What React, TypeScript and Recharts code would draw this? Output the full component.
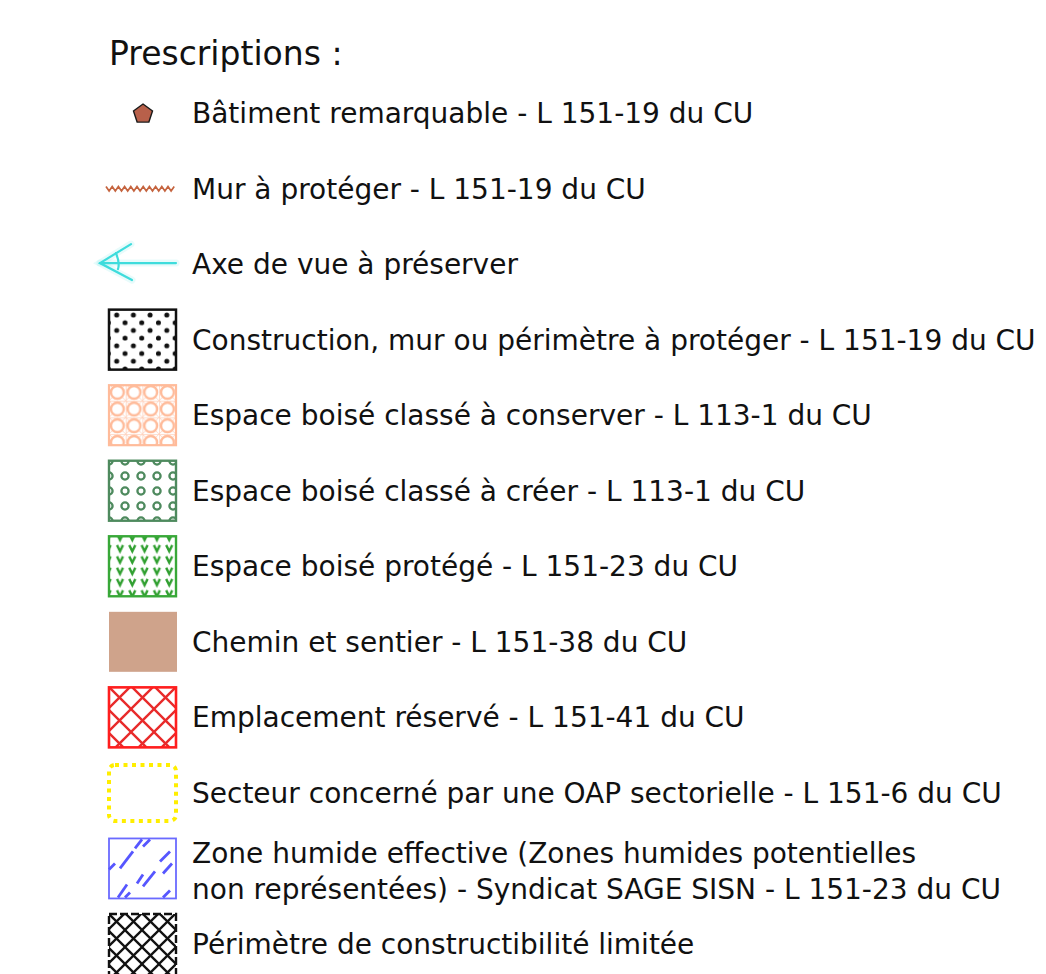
import React from "react";
import { ScatterChart, Scatter, XAxis, YAxis } from "recharts";

const title = "Prescriptions :";

const kinds = [
  "batiment",
  "mur",
  "axe",
  "construction",
  "ebcConserver",
  "ebcCreer",
  "ebp",
  "chemin",
  "emplacement",
  "oap",
  "zoneHumide",
  "perimetre",
];

const labels = [
  ["Bâtiment remarquable - L 151-19 du CU"],
  ["Mur à protéger - L 151-19 du CU"],
  ["Axe de vue à préserver"],
  ["Construction, mur ou périmètre à protéger - L 151-19 du CU"],
  ["Espace boisé classé à conserver - L 113-1 du CU"],
  ["Espace boisé classé à créer - L 113-1 du CU"],
  ["Espace boisé protégé - L 151-23 du CU"],
  ["Chemin et sentier - L 151-38 du CU"],
  ["Emplacement réservé - L 151-41 du CU"],
  ["Secteur concerné par une OAP sectorielle - L 151-6 du CU"],
  ["Zone humide effective (Zones humides potentielles", "non représentées) - Syndicat SAGE SISN - L 151-23 du CU"],
  ["Périmètre de constructibilité limitée"],
];

const rows = kinds.map((kind, i) => ({ x: 0, y: i, kind, lines: labels[i] }));

const FONT = "'DejaVu Sans', sans-serif";

// short hatch strokes of the wetland symbol, relative to the box corner
const wetDashes = [
  [1, 31, 7, 25],
  [12, 30, 25, 13],
  [27, 10, 34, 1],
  [35, 8, 42, 1],
  [52, 23, 62, 13],
  [55, 35, 64, 25],
  [29, 45, 35, 36],
  [35, 48, 47, 33],
  [10, 59, 19, 46],
  [17, 59, 22, 54],
  [55, 59, 62, 52],
];

const Symbol = ({ kind, cx, cy }: { kind: string; cx: number; cy: number }) => {
  const bx = cx - 35;
  const by = cy - 30;
  const bw = 69;
  const bh = 60;
  switch (kind) {
    case "batiment": {
      const r = 10;
      const pts = [0, 1, 2, 3, 4]
        .map((k) => {
          const a = -Math.PI / 2 + (k * 2 * Math.PI) / 5;
          return `${cx + r * Math.cos(a)},${cy + 1 + r * Math.sin(a)}`;
        })
        .join(" ");
      return <polygon points={pts} fill="#b8604a" stroke="#1a1a1a" strokeWidth={1.4} />;
    }
    case "mur": {
      let d = `M${cx - 37},${cy - 2}`;
      for (let x = cx - 37, k = 0; x < cx + 31; x += 3.1, k++) {
        d += ` L${x + 3.1},${k % 2 === 0 ? cy + 2.5 : cy - 2}`;
      }
      return <path d={d} fill="none" stroke="#c5643f" strokeWidth={1.7} />;
    }
    case "axe": {
      const y = cy - 1;
      return (
        <g stroke="#3edcdc" fill="none" strokeLinecap="round">
          <g strokeOpacity={0.12} strokeWidth={7}>
            <path d={`M${cx - 43},${y} L${cx + 33},${y}`} />
            <path d={`M${cx - 12},${y - 19} L${cx - 43},${y} L${cx - 11},${y + 17}`} />
          </g>
          <g strokeWidth={2.2}>
            <path d={`M${cx - 43},${y} L${cx + 33},${y}`} />
            <path d={`M${cx - 12},${y - 19} L${cx - 43},${y} L${cx - 11},${y + 17}`} />
            <path d={`M${cx - 27},${y - 10} Q${cx - 23},${y} ${cx - 25},${y + 6}`} />
          </g>
        </g>
      );
    }
    case "chemin":
      return <rect x={bx + 1} y={by} width={bw - 1} height={bh} fill="#cfa38b" />;
    case "oap":
      return (
        <rect
          x={bx + 1}
          y={by + 2}
          width={bw - 2}
          height={bh - 4}
          rx={6}
          fill="none"
          stroke="#ffee00"
          strokeWidth={4}
          strokeDasharray="4 4.5"
        />
      );
    case "zoneHumide":
      return (
        <g>
          <rect x={bx + 1} y={by} width={bw - 2} height={bh} fill="#fff" stroke="#6a6aff" strokeWidth={1.8} />
          {wetDashes.map((d, i) => (
            <line key={i} x1={bx + d[0]} y1={by + d[1]} x2={bx + d[2]} y2={by + d[3]} stroke="#5656ff" strokeWidth={2.8} />
          ))}
        </g>
      );
    default: {
      const style: Record<string, { fill: string; stroke: string; sw: number; dash?: string }> = {
        construction: { fill: "url(#pDots)", stroke: "#111", sw: 2.5 },
        ebcConserver: { fill: "url(#pCircles)", stroke: "#ffbb9a", sw: 2.2 },
        ebcCreer: { fill: "url(#pRings)", stroke: "#4e8a5e", sw: 2.4 },
        ebp: { fill: "url(#pV)", stroke: "#38a838", sw: 2.4 },
        emplacement: { fill: "url(#pRed)", stroke: "#ff1e1e", sw: 2.6 },
        perimetre: { fill: "url(#pBlack)", stroke: "#111", sw: 2.4, dash: "8 3" },
      };
      const s = style[kind];
      return (
        <rect
          x={bx + 1}
          y={by}
          width={bw - 2}
          height={kind === "perimetre" ? bh + 10 : bh}
          fill={s.fill}
          stroke={s.stroke}
          strokeWidth={s.sw}
          strokeDasharray={s.dash}
        />
      );
    }
  }
};

const LegendRow = (props: any) => {
  const { cx, cy, payload } = props;
  const lines: string[] = payload.lines;
  const tx = cx + 49;
  return (
    <g>
      <Symbol kind={payload.kind} cx={cx} cy={cy} />
      {lines.length === 1 ? (
        <text x={tx} y={cy + 10} fontFamily={FONT} fontSize={28} fill="#111">
          {lines[0]}
        </text>
      ) : (
        <text x={tx} y={cy - 5} fontFamily={FONT} fontSize={28} fill="#111">
          <tspan x={tx}>{lines[0]}</tspan>
          <tspan x={tx} dy={36}>
            {lines[1]}
          </tspan>
        </text>
      )}
    </g>
  );
};

export default function App() {
  return (
    <div style={{ position: "absolute", left: 0, top: 0, width: 1046, height: 974, background: "#fff" }}>
      <ScatterChart width={1046} height={974} margin={{ top: 113, right: 20, bottom: 30, left: 143 }}>
        <defs>
          <pattern id="pDots" patternUnits="userSpaceOnUse" width={16.7} height={15.4} x={116.7} y={315}>
            <circle cx={0} cy={0} r={2.5} fill="#111" />
            <circle cx={16.7} cy={0} r={2.5} fill="#111" />
            <circle cx={0} cy={15.4} r={2.5} fill="#111" />
            <circle cx={16.7} cy={15.4} r={2.5} fill="#111" />
            <circle cx={8.35} cy={7.7} r={2.5} fill="#111" />
          </pattern>
          <pattern id="pCircles" patternUnits="userSpaceOnUse" width={16.7} height={16.7} x={109} y={384}>
            <line x1={0} y1={0} x2={16.7} y2={0} stroke="#ffc4a8" strokeWidth={1.2} />
            <line x1={0} y1={0} x2={0} y2={16.7} stroke="#ffc4a8" strokeWidth={1.2} />
            <line x1={0} y1={0} x2={16.7} y2={16.7} stroke="#ffd2bd" strokeWidth={0.8} />
            <line x1={16.7} y1={0} x2={0} y2={16.7} stroke="#ffd2bd" strokeWidth={0.8} />
            <circle cx={8.35} cy={8.35} r={6.4} fill="#fff" stroke="#ffbb9a" strokeWidth={2.4} />
          </pattern>
          <pattern id="pRings" patternUnits="userSpaceOnUse" width={16} height={15} x={109} y={461}>
            <circle cx={0} cy={0} r={3.6} fill="none" stroke="#4e8a5e" strokeWidth={2.3} />
            <circle cx={16} cy={0} r={3.6} fill="none" stroke="#4e8a5e" strokeWidth={2.3} />
            <circle cx={0} cy={15} r={3.6} fill="none" stroke="#4e8a5e" strokeWidth={2.3} />
            <circle cx={16} cy={15} r={3.6} fill="none" stroke="#4e8a5e" strokeWidth={2.3} />
          </pattern>
          <pattern id="pV" patternUnits="userSpaceOnUse" width={12.3} height={11.3} x={114} y={533}>
            <path d="M3,0.8 L6,7 L9,0.8" fill="none" stroke="#2f9f2f" strokeWidth={2.4} />
          </pattern>
          <pattern id="pRed" patternUnits="userSpaceOnUse" width={23} height={23} x={108} y={686}>
            <line x1={0} y1={0} x2={23} y2={23} stroke="#e82a2a" strokeWidth={2.4} />
            <line x1={23} y1={0} x2={0} y2={23} stroke="#e82a2a" strokeWidth={2.4} />
          </pattern>
          <pattern id="pBlack" patternUnits="userSpaceOnUse" width={17} height={17} x={108} y={913}>
            <line x1={0} y1={0} x2={17} y2={17} stroke="#111" strokeWidth={2.3} />
            <line x1={17} y1={0} x2={0} y2={17} stroke="#111" strokeWidth={2.3} />
          </pattern>
        </defs>
        <text x={109} y={65} fontFamily={FONT} fontSize={33} fill="#111">
          {title}
        </text>
        <XAxis type="number" dataKey="x" domain={[0, 1]} hide />
        <YAxis type="number" dataKey="y" domain={[0, 11]} reversed hide />
        <Scatter data={rows} shape={LegendRow} isAnimationActive={false} />
      </ScatterChart>
    </div>
  );
}
